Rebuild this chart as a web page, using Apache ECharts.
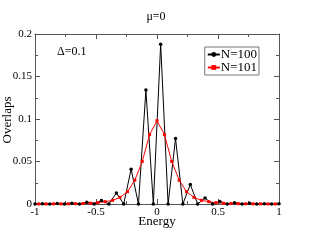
<!DOCTYPE html>
<html><head><meta charset="utf-8">
<script src="https://cdn.jsdelivr.net/npm/echarts@6/dist/echarts.min.js"></script>
<style>html,body{margin:0;padding:0;background:#fff}#c{width:312px;height:241px}</style>
</head><body><div id="c"></div>
<script>
var titleText = "μ=0";
var annotText = "Δ=0.1";
var xName = "Energy";
var yName = "Overlaps";
var xTicks = [-1, -0.5, 0, 0.5, 1];
var yTicks = [0, 0.05, 0.1, 0.15, 0.2];
var seriesNames = ["N=100", "N=101"];
var energy100 = [-1, -0.939, -0.879, -0.818, -0.758, -0.697, -0.636, -0.576, -0.515, -0.455, -0.394, -0.333, -0.273, -0.212, -0.152, -0.091, -0.030, 0.030, 0.091, 0.152, 0.212, 0.273, 0.333, 0.394, 0.455, 0.515, 0.576, 0.636, 0.697, 0.758, 0.818, 0.879, 0.939, 1];
var overlap100 = [0, 0.0003, 0, 0.0005, 0, 0.001, 0, 0.002, 0, 0.004, 0, 0.013, 0, 0.041, 0, 0.134, 0, 0.188, 0, 0.077, 0, 0.023, 0, 0.007, 0, 0.003, 0, 0.0015, 0, 0.0008, 0, 0.0004, 0, 0.0002];
var energy101 = [-1.03, -0.97, -0.909, -0.848, -0.788, -0.727, -0.667, -0.606, -0.545, -0.485, -0.424, -0.364, -0.303, -0.242, -0.182, -0.121, -0.061, 0, 0.061, 0.121, 0.182, 0.242, 0.303, 0.364, 0.424, 0.485, 0.545, 0.606, 0.667, 0.727, 0.788, 0.848, 0.909, 0.97, 1.03];
var overlap101 = [0, 0.0001, 0.0001, 0.0002, 0.0002, 0.0003, 0.0004, 0.0006, 0.0009, 0.0016, 0.0027, 0.0043, 0.0078, 0.0145, 0.028, 0.050, 0.0816, 0.098, 0.0816, 0.050, 0.028, 0.0145, 0.0078, 0.0043, 0.0027, 0.0016, 0.0009, 0.0006, 0.0004, 0.0003, 0.0002, 0.0002, 0.0001, 0.0001, 0];

var font = "Liberation Serif";
var frame = "#555";
function pairs(xs, ys){ return xs.map(function(x,i){return [x, ys[i]];}); }
function xAx(pos, show){
  return {type:'value', position:pos, min:xTicks[0], max:xTicks[xTicks.length-1], interval:0.5,
    axisLine:{show:true, onZero:false, lineStyle:{color:frame, width:1}},
    axisTick:{show:true, inside:true, length:5, lineStyle:{color:frame}},
    minorTick:{show:true, splitNumber:2, length:3, lineStyle:{color:frame}},
    splitLine:{show:false},
    axisLabel:{show:show, color:'#000', fontFamily:font, fontSize:11, margin:3}
  };
}
function yAx(pos, show){
  return {type:'value', position:pos, min:yTicks[0], max:yTicks[yTicks.length-1], interval:0.05,
    axisLine:{show:true, onZero:false, lineStyle:{color:frame, width:1}},
    axisTick:{show:true, inside:true, length:5, lineStyle:{color:frame}},
    minorTick:{show:true, splitNumber:2, length:3, lineStyle:{color:frame}},
    splitLine:{show:false},
    axisLabel:{show:show, color:'#000', fontFamily:font, fontSize:11, margin:3}
  };
}
var chart = echarts.init(document.getElementById('c'), null, {renderer:'canvas'});
chart.setOption({
  animation:false,
  backgroundColor:'#fff',
  title:{text:titleText, left:'center', top:6, textStyle:{fontFamily:font, fontSize:12, fontWeight:'normal', color:'#000'}},
  grid:{left:35, right:33, top:34, bottom:37, containLabel:false, outerBoundsMode:'none'},
  xAxis:[xAx('bottom', true), xAx('top', false)],
  yAxis:[yAx('left', true), yAx('right', false)],
  legend:{
    data:seriesNames, orient:'vertical', right:53, top:47, itemGap:0, itemWidth:12, itemHeight:6,
    borderColor:'#777', borderWidth:1, padding:[1,2,1,2],
    textStyle:{fontFamily:font, fontSize:13, lineHeight:12, color:'#000', padding:[0,0,0,-4]}
  },
  graphic:[
    {type:'text', left:57, top:46, style:{text:annotText, fontFamily:font, fontSize:12, fill:'#000'}},
    {type:'text', x:157, y:222, style:{text:xName, fontFamily:font, fontSize:13, fill:'#000', align:'center', verticalAlign:'middle'}},
    {type:'text', x:8, y:120, rotation:Math.PI/2, style:{text:yName, fontFamily:font, fontSize:13, fill:'#000', align:'center', verticalAlign:'middle'}}
  ],
  series:[
    {name:seriesNames[0], type:'line', data:pairs(energy100, overlap100), symbol:'circle', symbolSize:3.5,
     itemStyle:{color:'#000'}, lineStyle:{color:'#000', width:1}, clip:true},
    {name:seriesNames[1], type:'line', data:pairs(energy101, overlap101), symbol:'rect', symbolSize:3,
     itemStyle:{color:'#f00'}, lineStyle:{color:'#f00', width:1}, clip:true}
  ]
});
</script></body></html>
